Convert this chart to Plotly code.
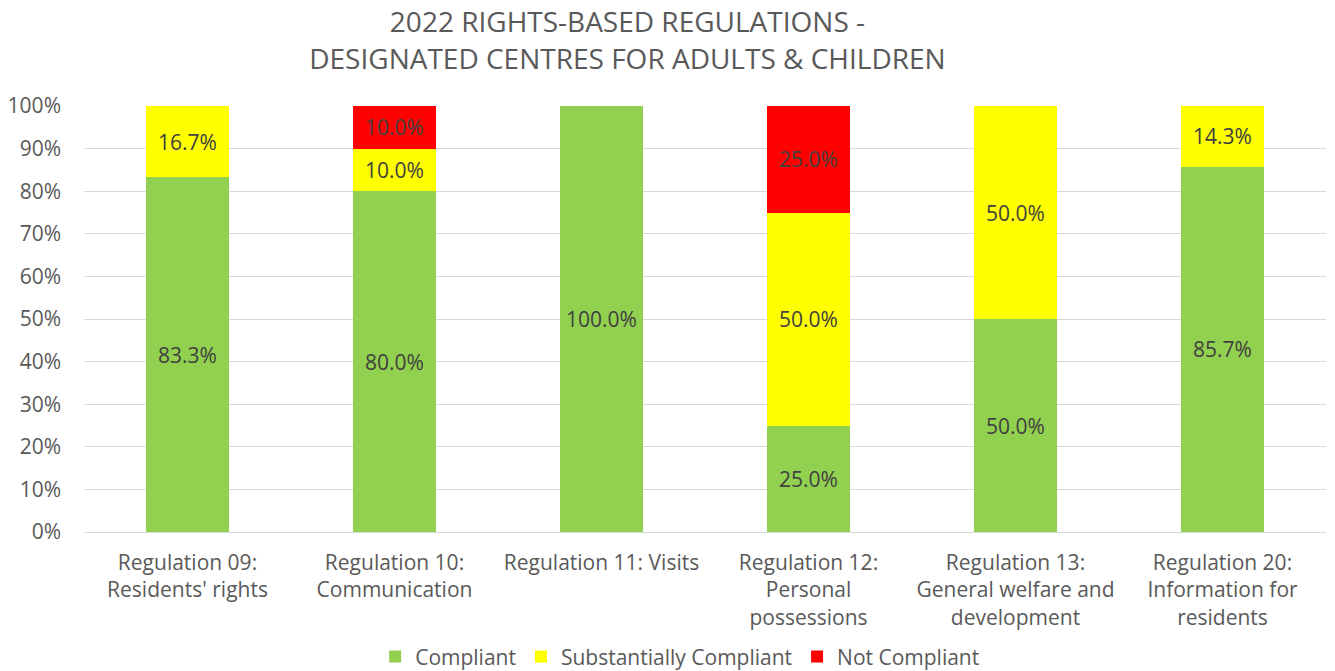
import plotly.graph_objects as go

categories = [
    "Regulation 09:<br>Residents' rights",
    "Regulation 10:<br>Communication",
    "Regulation 11: Visits",
    "Regulation 12:<br>Personal<br>possessions",
    "Regulation 13:<br>General welfare and<br>development",
    "Regulation 20:<br>Information for<br>residents",
]
compliant = [83.3, 80.0, 100.0, 25.0, 50.0, 85.7]
substantially = [16.7, 10.0, 0.0, 50.0, 50.0, 14.3]
not_compliant = [0.0, 10.0, 0.0, 25.0, 0.0, 0.0]

series = [
    ("Compliant", compliant, "#92D050"),
    ("Substantially Compliant", substantially, "#FFFF00"),
    ("Not Compliant", not_compliant, "#FF0000"),
]

FONT = "Open Sans"
TXT = "#595959"
FS = 21

fig = go.Figure()
for name, vals, col in series:
    fig.add_trace(go.Bar(
        name=name, x=categories, y=vals, marker=dict(color=col, line=dict(width=0)),
        text=[f"{v:.1f}%" if v > 0 else "" for v in vals],
        textposition="inside", insidetextanchor="middle", textangle=0,
        constraintext="none",
        textfont=dict(family=FONT, size=FS, color="#404040"),
        hoverinfo="skip",
    ))

fig.update_layout(
    width=1335, height=671,
    barmode="stack", bargap=0.6,
    paper_bgcolor="white", plot_bgcolor="white",
    margin=dict(l=84, r=9, t=106, b=139, autoexpand=False),
    title=dict(text="2022 RIGHTS-BASED REGULATIONS -<br>DESIGNATED CENTRES FOR ADULTS & CHILDREN",
               x=0.47, xanchor="center", xref="container", yref="container", y=0.952, yanchor="top",
               font=dict(family=FONT, size=28, color=TXT)),
    font=dict(family=FONT, color=TXT, size=FS),
    legend=dict(orientation="h", x=0.48, xanchor="center", y=-0.293, yanchor="middle",
                font=dict(family=FONT, size=FS, color=TXT), traceorder="normal"),
    yaxis=dict(range=[0, 100], dtick=10, ticksuffix="%", showgrid=True, automargin=False,
               gridcolor="#D9D9D9", gridwidth=1.3, zeroline=True, zerolinecolor="#D9D9D9",
               zerolinewidth=1.3, tickfont=dict(family=FONT, size=FS, color=TXT), ticklen=0,
               ticklabelstandoff=22),
    xaxis=dict(tickfont=dict(family=FONT, size=FS, color=TXT), showline=False, automargin=False,
               ticklabelstandoff=16),
)

fig.write_html("out.html", config={"displayModeBar": False},
               post_script="document.body.style.margin='0';")
